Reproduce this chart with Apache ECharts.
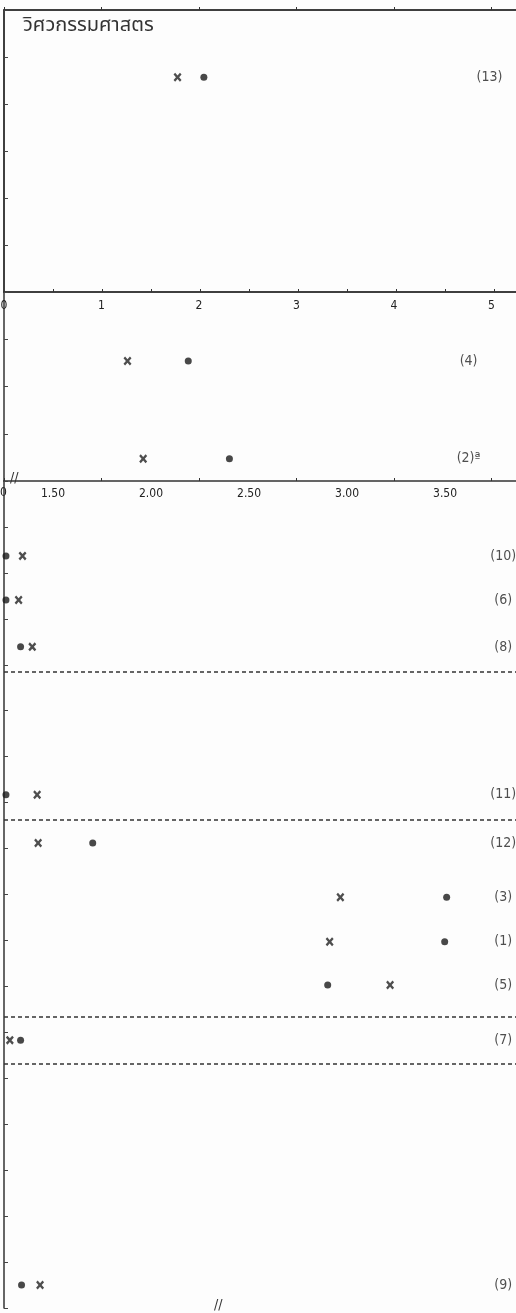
<!DOCTYPE html>
<html>
<head>
<meta charset="utf-8">
<script src="https://cdn.jsdelivr.net/npm/echarts@6/dist/echarts.min.js"></script>
<style>
  html, body { margin: 0; padding: 0; background: #fdfdfd; }
  #main { width: 516px; height: 1313px; }
</style>
</head>
<body>
<div id="main"></div>
<script>
// ข้อมูลแต่ละแผง (x = ค่า, y = ตำแหน่งแถว)
var titleText = 'วิศวกรรมศาสตร';

// แผง 1 : สเกล 0 - 5
var labels1 = ['(13)'];
var rowY1 = [1.43];
var cross1 = [1.78];
var dot1 = [2.05];

// แผง 2 : สเกล 1.50 - 3.50
var labels2 = ['(4)', '(2)ª'];
var rowY2 = [1.46, 3.53];
var cross2 = [1.88, 1.96];
var dot2 = [2.19, 2.40];

// แผง 3
var labels3 = ['(10)', '(6)', '(8)', '(11)', '(12)', '(3)', '(1)', '(5)', '(7)', '(9)'];
var rowY3 = [1.63, 2.59, 3.61, 6.83, 7.88, 9.06, 10.03, 10.97, 12.17, 17.50];
var cross3 = [0.19, 0.15, 0.29, 0.34, 0.35, 3.45, 3.34, 3.96, 0.06, 0.37];
var dot3 = [0.02, 0.02, 0.17, 0.02, 0.91, 4.54, 4.52, 3.32, 0.17, 0.18];
var dashY3 = [4.16, 7.38, 11.65, 12.69];

var ink = '#222';
var font = 'DejaVu Sans Condensed, DejaVu Sans, sans-serif';
var crossPath = 'path://M0,2L2,0L5,3L8,0L10,2L7,5L10,8L8,10L5,7L2,10L0,8L3,5Z';

function pts(xs, ys) {
  return xs.map(function (x, i) { return [x, ys[i]]; });
}
function labelPts(names, ys, x) {
  return names.map(function (n, i) { return { name: n, value: [x, ys[i]] }; });
}

var myChart = echarts.init(document.getElementById('main'));

var axisLine = { show: true, lineStyle: { color: '#333', width: 1.5 } };
var yTick = { show: true, inside: true, length: 4, lineStyle: { color: '#444' } };

var option = {
  backgroundColor: '#fdfdfd',
  animation: false,
  title: {
    text: titleText,
    left: 18, top: 12,
    textStyle: { fontSize: 20, fontWeight: 'normal', color: '#333', fontFamily: 'Noto Sans Thai, Noto Sans, DejaVu Sans, sans-serif' }
  },
  grid: [
    { left: 4, width: 522, top: 10, height: 282, outerBoundsMode: 'none', show: true, borderColor: '#333', borderWidth: 1.5, backgroundColor: 'transparent' },
    { left: 4, width: 522, top: 292, height: 189, outerBoundsMode: 'none' },
    { left: 4, width: 522, top: 481, height: 827, outerBoundsMode: 'none' }
  ],
  xAxis: [
    {
      gridIndex: 0, type: 'value', min: 0, max: 5.354, interval: 1,
      splitLine: { show: false }, axisLine: axisLine,
      axisTick: { show: true, inside: true, length: 3, lineStyle: { color: '#333' } },
      axisLabel: {
        color: ink, fontSize: 12, fontFamily: font, margin: 8, showMaxLabel: false,
        formatter: function (v) { return Math.abs(v - Math.round(v)) < 1e-6 ? String(Math.round(v)) : ''; }
      }
    },
    {
      gridIndex: 1, type: 'value', min: 1.25, max: 3.913, interval: 0.25,
      splitLine: { show: false }, axisLine: axisLine,
      axisTick: { show: true, inside: true, length: 3, lineStyle: { color: '#333' } },
      axisLabel: {
        color: ink, fontSize: 12, fontFamily: font, margin: 7, showMaxLabel: false, showMinLabel: false,
        formatter: function (v) {
          var r = Math.round(v * 2) / 2;
          return Math.abs(v - r) < 1e-6 ? r.toFixed(2) : '';
        }
      }
    },
    {
      gridIndex: 2, type: 'value', min: 0, max: 5.354, interval: 1,
      splitLine: { show: false }, axisLine: axisLine,
      axisTick: { show: true, inside: true, length: 3, lineStyle: { color: '#333' } },
      axisLabel: { show: false }
    }
  ],
  yAxis: [
    { gridIndex: 0, type: 'value', min: 0, max: 6, interval: 1, inverse: true,
      splitLine: { show: false }, axisLine: axisLine, axisTick: yTick, axisLabel: { show: false } },
    { gridIndex: 1, type: 'value', min: 0, max: 4, interval: 1, inverse: true,
      splitLine: { show: false }, axisLine: axisLine, axisTick: yTick, axisLabel: { show: false } },
    { gridIndex: 2, type: 'value', min: 0, max: 18, interval: 1, inverse: true,
      splitLine: { show: false }, axisLine: axisLine, axisTick: yTick, axisLabel: { show: false } }
  ],
  graphic: [
    { type: 'text', left: 0, top: 487, style: { text: '0', fontSize: 12, fontFamily: font, fill: ink } },
    { type: 'text', left: 10, top: 471, style: { text: '//', fontSize: 14, fontFamily: font, fill: '#333' } },
    { type: 'text', left: 214, top: 1298, style: { text: '//', fontSize: 14, fontFamily: font, fill: '#333' } }
  ],
  series: []
};

var panels = [
  { cross: cross1, dot: dot1, y: rowY1, labels: labels1, labelX: 4.98 },
  { cross: cross2, dot: dot2, y: rowY2, labels: labels2, labelX: 3.62 },
  { cross: cross3, dot: dot3, y: rowY3, labels: labels3, labelX: 5.12 }
];

panels.forEach(function (p, i) {
  option.series.push({
    type: 'scatter', xAxisIndex: i, yAxisIndex: i, clip: false,
    symbol: crossPath, symbolSize: [8, 9],
    itemStyle: { color: ink },
    data: pts(p.cross, p.y)
  });
  option.series.push({
    type: 'scatter', xAxisIndex: i, yAxisIndex: i, clip: false,
    symbol: 'circle', symbolSize: 7,
    itemStyle: { color: '#1a1a1a' },
    data: pts(p.dot, p.y),
    markLine: i === 2 ? {
      silent: true, symbol: 'none', label: { show: false },
      lineStyle: { color: '#333', type: [4, 3], width: 1.5 },
      data: dashY3.map(function (v) { return { yAxis: v }; })
    } : undefined
  });
  option.series.push({
    type: 'scatter', xAxisIndex: i, yAxisIndex: i, clip: false,
    symbolSize: 0,
    label: { show: true, position: 'inside', formatter: '{b}', color: ink, fontSize: 14, fontFamily: font },
    data: labelPts(p.labels, p.y, p.labelX)
  });
});

myChart.setOption(option);
</script>
</body>
</html>
